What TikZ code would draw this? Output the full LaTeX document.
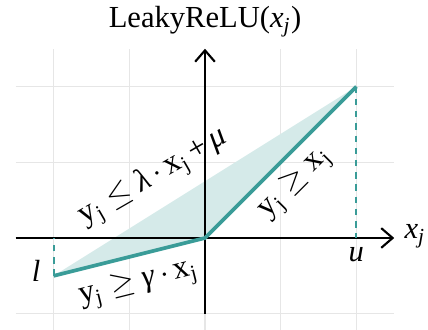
\documentclass[tikz,border=0pt]{standalone}
\usepackage{amsmath}
\usepackage{fontspec}
\setmainfont{Liberation Serif}
\usetikzlibrary{arrows.meta}
\definecolor{tealc}{HTML}{3A9C98}
\definecolor{tealfill}{HTML}{D5EAE9}
\definecolor{gridc}{HTML}{E6E6E6}
\begin{document}
\begin{tikzpicture}[x=1cm,y=1cm,
  gridline/.style={draw=gridc,line width=0.4pt},
  axisline/.style={draw=black,line width=0.8pt,-{Straight Barb[length=1.5mm,width=2.6mm,line width=0.8pt]}},
  relu/.style={draw=tealc,line width=1.4pt,line join=round},
  guide/.style={draw=tealc,line width=0.75pt,dash pattern=on 2.4pt off 2.2pt},
  lbl/.style={font=\fontsize{12}{14}\selectfont,inner sep=0pt},
  ttl/.style={font=\fontsize{11.5}{14}\selectfont,inner sep=0pt}]
\useasboundingbox (-2.708,-1.215) rectangle (2.946,3.144);
% grid
\draw[gridline] (-2.5,-1.3) grid (2.5,2.5);
% coordinates
\coordinate (O) at (0,0);
\coordinate (L) at (-2,-0.5);
\coordinate (U) at (2,2);
\coordinate (Lax) at (-2,0);
\coordinate (Uax) at (2,0);
\coordinate (xs) at (-2.5,0);
\coordinate (xe) at (2.5,0);
\coordinate (ys) at (0,-1);
\coordinate (ye) at (0,2.5);
% fill
\fill[tealfill] (L) -- (U) -- (O) -- cycle;
% axes
\draw[axisline] (xs) -- (xe);
\draw[axisline] (ys) -- (ye);
% guides
\draw[guide] (U) -- (Uax);
\draw[guide] (L) -- (Lax);
% relu
\draw[relu] (L) -- (O) -- (U);
% labels
\node[ttl] (title) at (0,2.86) {LeakyReLU(\textit{x}$_{\textit{j}}$)};
\node[ttl,anchor=west] (xlab) at (2.63,0.02) {\textit{x}$_{\textit{j}}$};
\node[ttl] (ulab) at (2.0,-0.22) {\textit{u}};
\node[ttl] (llab) at (-2.23,-0.43) {\textit{l}};
\node[lbl,rotate=30] (upper) at (-0.68,0.80) {y$_{\mathrm{j}}\leq$ \textit{λ}\,$\cdot$\,x$_{\mathrm{j}}$\,+\,\textit{μ}};
\node[lbl,rotate=14] (lower) at (-0.88,-0.60) {y$_{\mathrm{j}}\geq$ \textit{γ}\,$\cdot$\,x$_{\mathrm{j}}$};
\node[lbl,rotate=45] (right) at (1.19,0.72) {y$_{\mathrm{j}}\geq$ x$_{\mathrm{j}}$};
\end{tikzpicture}
\end{document}
